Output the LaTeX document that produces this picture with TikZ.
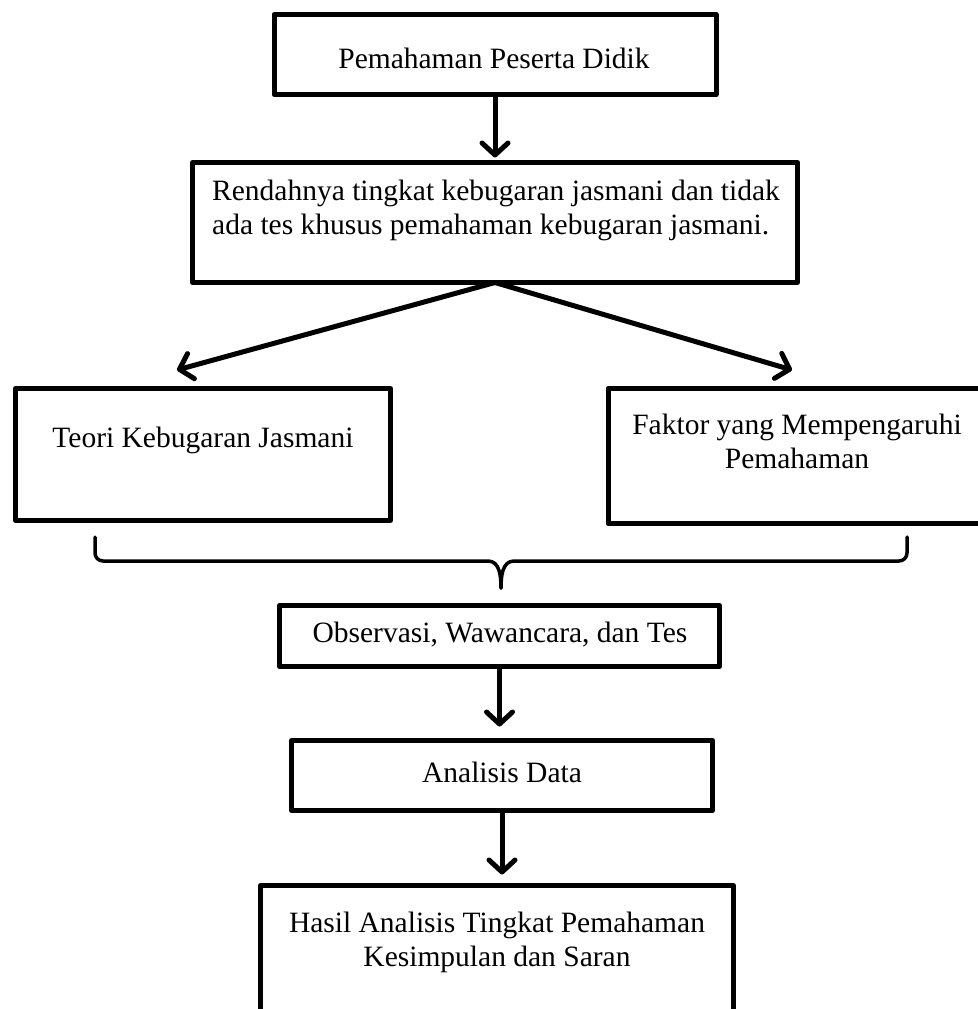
\documentclass[tikz,border=0pt]{standalone}
\usepackage{fontspec}
\setmainfont{Liberation Serif}
\usetikzlibrary{arrows.meta}
\begin{document}
\begin{tikzpicture}[x=1pt,y=-1pt,
  box/.style={draw, line width=5pt, rectangle, outer sep=0pt, inner sep=0pt, line join=round},
  txt/.style={inner sep=0pt, align=center, font=\fontsize{29.5}{34}\selectfont},
  arr/.style={line width=5pt, -{Straight Barb[length=12pt,width=26pt,line cap=round,line join=round]}},
  brace/.style={line width=3.5pt, line cap=round}]
\useasboundingbox (0,0) rectangle (977,1009);
% boxes
\node[box, minimum width=442pt, minimum height=80pt] (b1) at (495,54.5) {};
\node[box, minimum width=605pt, minimum height=120pt] (b2) at (495,222.5) {};
\node[box, minimum width=375pt, minimum height=132pt] (b3) at (203,454.5) {};
\node[box, minimum width=384pt, minimum height=135pt] (b4) at (800,456) {};
\node[box, minimum width=440pt, minimum height=61pt] (b5) at (499.5,636) {};
\node[box, minimum width=421pt, minimum height=70pt] (b6) at (502,775.5) {};
\node[box, minimum width=473pt, minimum height=142pt] (b7) at (497,956.5) {};
% texts
\node[txt] (t1) at (494,58) {Pemahaman Peserta Didik};
\node[txt, align=left, anchor=west] (t2) at (212,210) {Rendahnya tingkat kebugaran jasmani dan tidak\\ada tes khusus pemahaman kebugaran jasmani.};
\node[txt] (t3) at (203,440) {Teori Kebugaran Jasmani};
\node[txt] (t4) at (797,441) {Faktor yang Mempengaruhi\\Pemahaman};
\node[txt] (t5) at (500,635) {Observasi, Wawancara, dan Tes};
\node[txt] (t6) at (502,772) {Analisis Data};
\node[txt] (t7) at (497,942) {Hasil Analisis Tingkat Pemahaman\\Kesimpulan dan Saran};
% arrow end points
\coordinate (e3) at (177,370);
\coordinate (e4) at (792,370);
\coordinate (bl) at (95,537);
\coordinate (br) at (907,537);
\coordinate (bm) at (501,588);
% arrows
\draw[arr, shorten >=5pt] (b1.south) -- (b1.south |- b2.north);
\draw[arr] (b2.south) -- (e3);
\draw[arr] (b2.south) -- (e4);
\draw[arr, shorten >=14pt] (b5.south) -- (b5.south |- b6.north);
\draw[arr, shorten >=11pt] (b6.south) -- (b6.south |- b7.north);
% brace
\draw[brace] (bl) -- (95,553) to[out=-90,in=180] (103,561) -- (488,561) to[out=0,in=90] (bm);
\draw[brace] (br) -- (907,553) to[out=-90,in=0] (899,561) -- (514,561) to[out=180,in=90] (bm);
\end{tikzpicture}
\end{document}
